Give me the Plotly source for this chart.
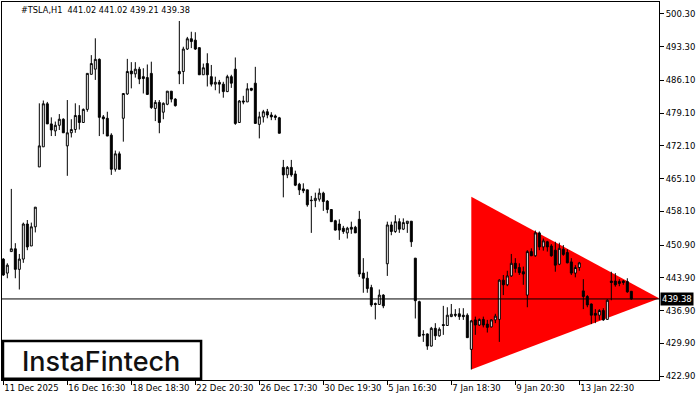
import plotly.graph_objects as go

# Hourly bars (index 0 = 11 Dec 2025 16:30)
opens = [447.9, 444.9, 449.5, 450.1, 445.7, 447.9, 455.4, 450.7, 454.8, 467.6,
         471.9, 481.1, 476.8, 475.3, 476.5, 477.8, 472.1, 474.9, 475.6, 478.6,
         477.1, 479.9, 487.4, 488.5, 490.6, 478.3, 478.0, 474.4, 467.1, 470.4,
         478.0, 483.2, 488.1, 487.5, 488.5, 486.9, 486.7, 487.6, 480.1, 481.4,
         479.3, 481.0, 483.8, 482.1, 488.0, 488.0, 492.8, 495.0, 494.7, 493.1,
         487.3, 489.7, 486.9, 485.3, 485.7, 485.3, 483.7, 486.9, 488.5, 477.1,
         481.7, 481.5, 484.4, 485.5, 476.7, 478.3, 479.4, 478.7, 478.5, 478.1,
         467.5, 465.9, 467.5, 466.1, 463.9, 462.9, 462.7, 460.5, 460.4, 460.7,
         462.0, 460.3, 458.5, 456.1, 455.4, 454.5, 453.5, 454.7, 454.7, 456.4,
         444.9, 443.8, 441.8, 438.4, 438.2, 440.2, 446.9, 455.2, 453.8, 455.9,
         454.3, 455.5, 456.0, 448.1, 438.8, 431.8, 431.9, 429.3, 433.1, 431.5,
         433.9, 433.7, 435.6, 436.1, 436.2, 435.9, 435.9, 428.6, 434.9, 433.8,
         435.0, 434.0, 433.4, 434.9, 435.0, 443.4, 442.4, 444.3, 447.0, 446.1,
         445.2, 440.2, 449.5, 448.6, 453.5, 450.5, 451.6, 450.7, 449.8, 446.8,
         450.0, 449.3, 447.3, 444.9, 446.1, 441.1, 439.9, 438.3, 436.3, 435.9,
         436.9, 435.0, 443.2, 443.2, 443.1, 443.2, 443.1, 441.02]
highs = [448.1, 447.0, 462.9, 451.3, 449.0, 455.7, 456.25, 455.7, 459.0, 481.2,
         481.8, 481.5, 478.2, 477.3, 478.9, 478.0, 481.9, 477.8, 481.2, 480.8,
         480.1, 487.6, 491.5, 495.1, 490.8, 478.7, 479.4, 474.8, 471.1, 470.9,
         483.3, 490.7, 490.0, 490.0, 489.0, 488.7, 489.5, 490.1, 481.9, 481.9,
         481.4, 483.8, 483.8, 482.3, 498.8, 493.3, 495.4, 496.5, 496.4, 493.1,
         489.7, 491.9, 489.4, 486.9, 486.2, 485.8, 487.3, 487.3, 491.0, 481.9,
         482.8, 485.5, 484.5, 489.0, 479.4, 479.8, 480.0, 479.3, 478.8, 478.3,
         469.1, 467.8, 469.1, 466.8, 464.2, 464.1, 462.7, 461.4, 462.1, 463.0,
         462.3, 460.5, 458.5, 456.3, 456.4, 455.0, 454.8, 455.9, 455.0, 458.2,
         448.1, 445.2, 442.4, 438.6, 441.4, 440.4, 455.9, 455.9, 457.3, 456.6,
         456.6, 456.0, 456.0, 448.1, 439.0, 432.7, 432.0, 433.4, 434.2, 433.3,
         437.9, 437.6, 438.3, 437.2, 437.4, 437.4, 436.3, 434.9, 435.6, 435.2,
         435.6, 434.9, 435.0, 436.2, 443.6, 444.5, 445.4, 449.0, 448.1, 447.0,
         446.3, 449.8, 450.2, 454.0, 453.8, 452.3, 451.8, 451.1, 451.6, 451.4,
         450.9, 450.0, 448.1, 446.6, 447.3, 443.6, 440.2, 438.4, 437.2, 437.2,
         437.4, 439.3, 445.2, 444.9, 443.6, 443.4, 443.8, 441.02]
lows = [444.3, 443.8, 449.5, 443.8, 441.4, 447.1, 449.8, 450.7, 453.6, 467.6,
        471.9, 476.8, 474.2, 474.2, 475.5, 474.9, 465.7, 473.9, 474.9, 475.6,
        477.1, 479.4, 487.4, 486.2, 474.2, 474.6, 474.2, 465.9, 466.6, 467.1,
        473.0, 483.0, 484.4, 486.7, 485.3, 483.3, 483.0, 480.0, 477.4, 474.8,
        477.8, 480.8, 481.4, 480.5, 485.3, 485.3, 492.6, 493.0, 492.6, 487.3,
        487.3, 484.8, 484.8, 484.0, 483.3, 482.4, 483.6, 484.5, 476.6, 477.1,
        481.0, 481.5, 483.8, 476.9, 473.7, 477.1, 478.0, 477.6, 477.6, 474.8,
        461.1, 465.2, 465.5, 463.5, 461.6, 462.0, 459.1, 453.5, 459.0, 460.2,
        458.2, 457.7, 455.9, 454.0, 452.0, 453.3, 452.3, 453.3, 453.5, 444.1,
        440.7, 440.7, 437.7, 435.0, 438.1, 437.4, 444.3, 453.0, 453.5, 453.5,
        454.1, 453.5, 450.5, 435.2, 431.4, 430.2, 428.5, 429.2, 430.6, 431.3,
        431.7, 433.6, 435.5, 435.5, 434.9, 434.9, 431.1, 424.3, 431.7, 433.6,
        433.3, 432.2, 433.3, 434.2, 430.2, 440.2, 442.1, 444.1, 445.0, 444.5,
        442.4, 437.6, 448.6, 448.4, 449.8, 449.7, 449.5, 448.4, 445.2, 446.6,
        448.6, 447.0, 444.5, 444.0, 445.4, 437.2, 437.6, 434.0, 434.2, 434.9,
        434.7, 435.0, 439.1, 442.0, 442.1, 442.4, 440.7, 439.21]
closes = [444.5, 446.6, 450.1, 445.7, 447.9, 455.4, 450.5, 454.8, 459.0, 472.1,
          481.1, 476.8, 475.5, 476.5, 477.8, 474.9, 474.9, 475.6, 478.6, 477.1,
          479.9, 487.6, 489.7, 490.6, 478.2, 477.9, 474.2, 467.1, 470.4, 467.1,
          483.3, 488.0, 487.5, 488.5, 486.4, 486.5, 483.1, 480.3, 481.4, 477.1,
          481.2, 483.8, 482.1, 480.7, 487.5, 492.8, 495.0, 494.4, 492.8, 487.3,
          488.8, 487.3, 485.3, 485.7, 485.3, 483.7, 486.9, 485.5, 476.9, 481.7,
          481.5, 484.3, 484.0, 476.9, 478.3, 479.4, 478.7, 478.3, 478.2, 474.8,
          465.9, 467.5, 465.9, 463.7, 462.7, 462.5, 459.5, 460.4, 460.9, 462.0,
          460.2, 458.5, 455.9, 454.1, 454.1, 453.8, 454.5, 454.3, 453.5, 444.7,
          443.8, 441.6, 438.1, 438.2, 440.2, 437.9, 455.2, 453.8, 455.9, 454.3,
          455.7, 456.0, 451.6, 439.0, 431.4, 431.7, 429.3, 433.1, 431.5, 432.9,
          433.7, 435.9, 436.1, 435.9, 435.6, 435.6, 431.1, 434.7, 433.8, 435.0,
          433.8, 433.3, 434.9, 435.7, 443.4, 442.4, 444.3, 447.0, 445.9, 445.0,
          444.7, 449.5, 448.6, 453.5, 450.5, 451.8, 450.5, 448.6, 446.6, 450.2,
          448.9, 447.1, 444.9, 446.1, 447.1, 439.9, 438.1, 435.9, 435.9, 436.9,
          434.9, 439.1, 442.9, 442.4, 442.7, 442.9, 440.9, 439.38]

tick_pos = [0, 16, 32, 48, 64, 80, 96, 112, 128, 144]
tick_text = ["11 Dec 2025", "16 Dec 16:30", "18 Dec 18:30", "22 Dec 20:30",
             "26 Dec 17:30", "30 Dec 19:30", "5 Jan 16:30", "7 Jan 18:30",
             "9 Jan 20:30", "13 Jan 22:30"]
price_ticks = [500.30, 493.30, 486.10, 479.10, 472.10, 465.10, 458.10,
               450.90, 443.90, 436.90, 429.90, 422.90]

# Symmetrical triangle pattern (bar index, price)
tri_x = [117, 117, 164]
tri_y = [461.2, 424.3, 439.5]

bid = closes[-1]
title = "#TSLA,H1\u00a0\u00a0{:.2f} {:.2f} {:.2f} {:.2f}".format(opens[-1], highs[-1], lows[-1], closes[-1])

x = list(range(len(opens)))

fig = go.Figure()
fig.add_trace(go.Candlestick(
    x=x, open=opens, high=highs, low=lows, close=closes,
    increasing=dict(line=dict(color="black", width=1), fillcolor="white"),
    decreasing=dict(line=dict(color="black", width=1), fillcolor="black"),
    whiskerwidth=0, showlegend=False, hoverinfo="skip"))

tri_path = "M {},{} L {},{} L {},{} Z".format(tri_x[0], tri_y[0], tri_x[1], tri_y[1], tri_x[2], tri_y[2])
fig.add_shape(type="path", path=tri_path, xref="x", yref="y",
              fillcolor="#FF0000", line=dict(width=0), layer="below")

fig.add_shape(type="line", xref="paper", x0=0, x1=1, yref="y", y0=bid, y1=bid,
              line=dict(color="black", width=1), layer="above")

fig.add_annotation(xref="paper", x=1, xanchor="left", xshift=1, yref="y", y=bid,
                   text="{:.2f}".format(bid), showarrow=False, bgcolor="black",
                   font=dict(family="DejaVu Sans", size=8.5, color="white"), borderpad=1)

fig.add_annotation(xref="paper", yref="paper", x=0.026, y=0.978, xanchor="left", yanchor="middle",
                   text=title, showarrow=False,
                   font=dict(family="DejaVu Sans", size=8.2, color="black"))

# logo box
fig.add_shape(type="rect", xref="paper", yref="paper", x0=0.0015, x1=0.303, y0=0.003, y1=0.103,
              line=dict(color="black", width=2.5), fillcolor="white", layer="above")
fig.add_annotation(xref="paper", yref="paper", x=0.151, y=0.05, xanchor="center", yanchor="middle",
                   text="InstaFintech", showarrow=False,
                   font=dict(family="Inter", size=27, color="#111111", weight=500))

fig.update_layout(
    width=700, height=400,
    margin=dict(l=2, r=41, t=2, b=20, autoexpand=False),
    paper_bgcolor="white", plot_bgcolor="white",
    showlegend=False,
    xaxis=dict(range=[-0.33, 163.92], tickvals=tick_pos, ticktext=tick_text,
               showgrid=False, zeroline=False, showline=True, linecolor="black", linewidth=1,
               mirror=True, ticks="outside", ticklen=4, tickcolor="black", tickangle=0,
               ticklabelposition="outside right", automargin=False,
               tickfont=dict(family="DejaVu Sans", size=8.5, color="black"),
               rangeslider=dict(visible=False), fixedrange=True),
    yaxis=dict(range=[422.05, 502.86], side="right", tickvals=price_ticks,
               ticktext=["{:.2f}".format(v) for v in price_ticks], automargin=False,
               showgrid=False, zeroline=False, showline=True, linecolor="black", linewidth=1,
               mirror=True, ticks="outside", ticklen=4, tickcolor="black",
               tickfont=dict(family="DejaVu Sans", size=8.5, color="black"), fixedrange=True),
)

fig.write_html("out.html", config={"displayModeBar": False},
               post_script="document.body.style.margin='0px';document.body.style.overflow='hidden';")
